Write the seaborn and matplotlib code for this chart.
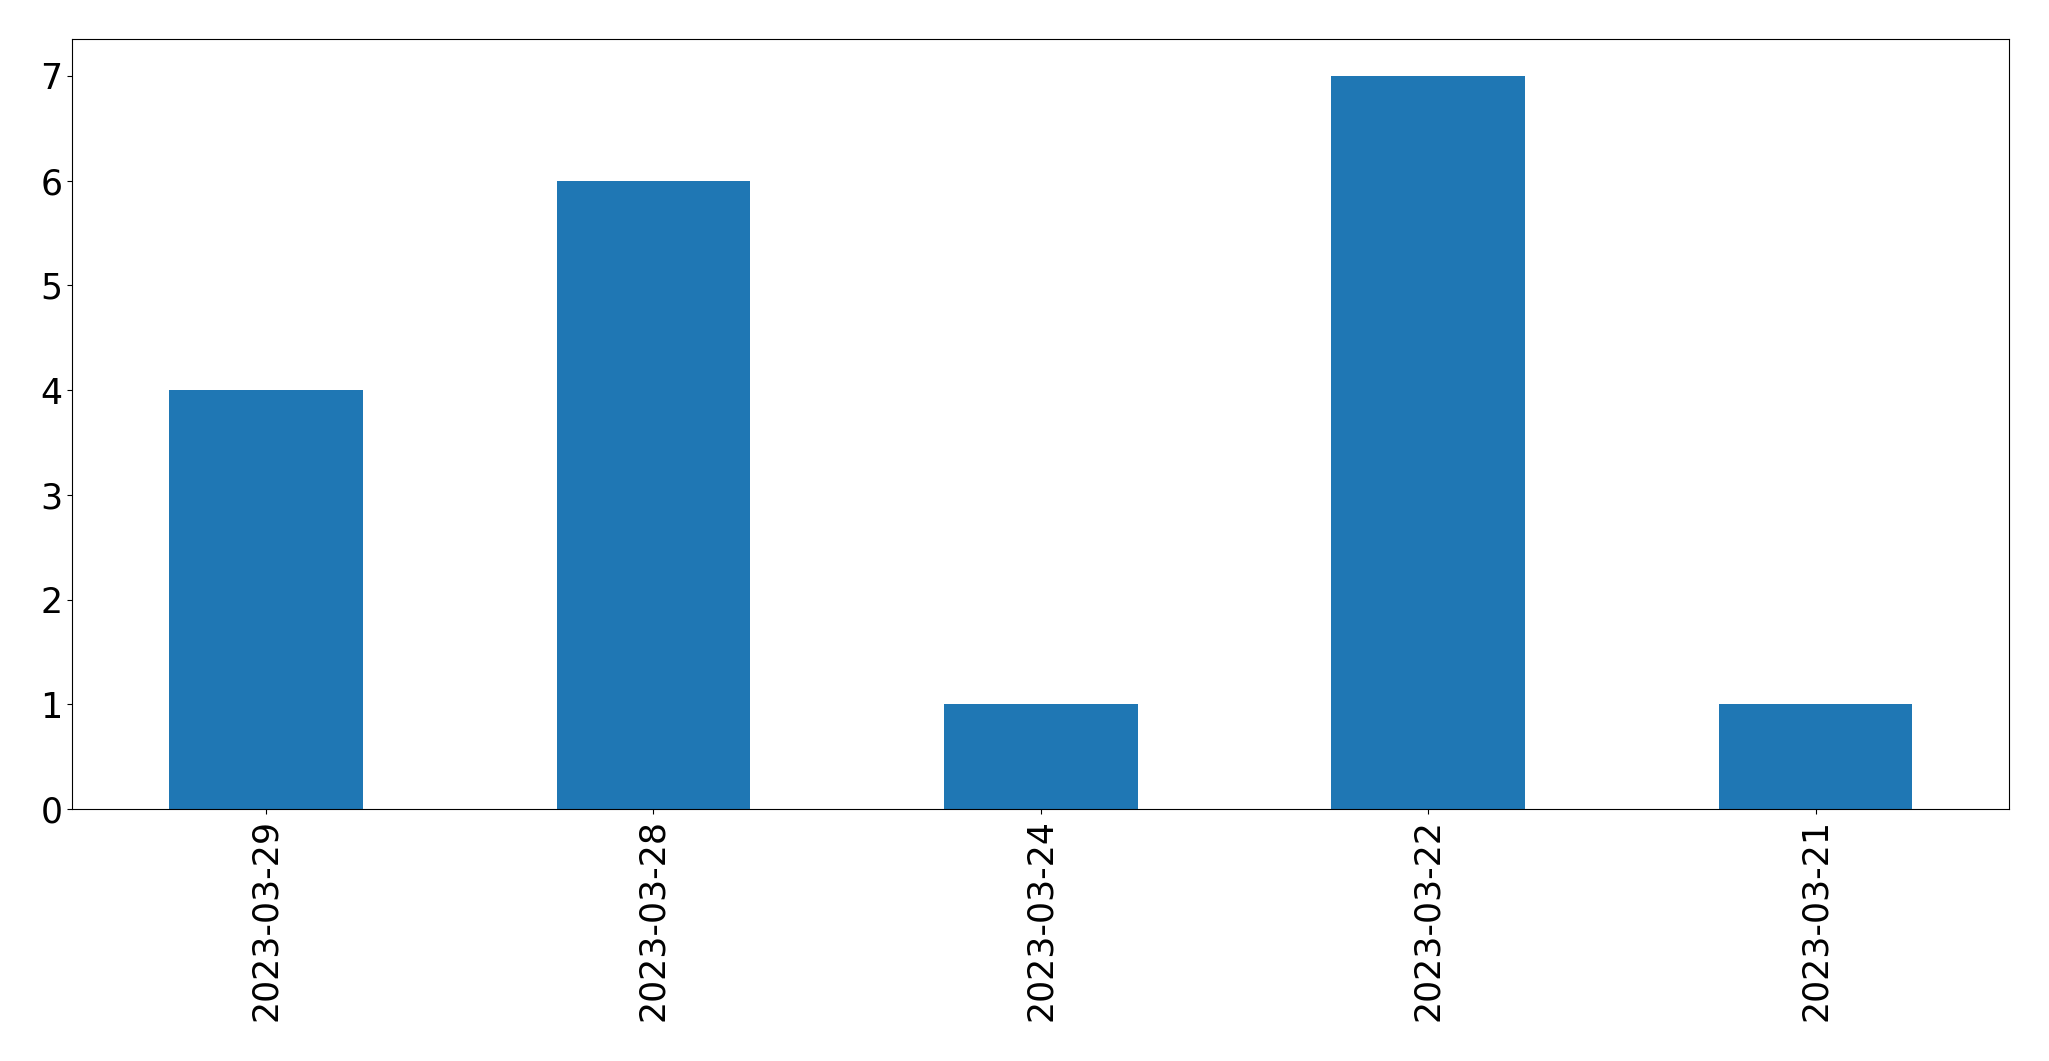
import matplotlib
matplotlib.use("Agg")
import matplotlib.pyplot as plt
import seaborn as sns
import pandas as pd

dates = ["2023-03-29", "2023-03-28", "2023-03-24", "2023-03-22", "2023-03-21"]
counts = [4, 6, 1, 7, 1]

df = pd.DataFrame({"date": dates, "count": counts})

fig = plt.figure(figsize=(20.49, 10.61), dpi=100)
ax = fig.add_axes([0.0353, 0.2375, 0.9453, 0.7255])
sns.barplot(data=df, x="date", y="count", order=dates, color="#1f77b4",
            saturation=1, width=0.5, linewidth=0, ax=ax)
ax.set_xlim(-0.5, len(dates) - 0.5)
ax.set_ylim(0, max(counts) * 1.05)
ax.set_xlabel("")
ax.set_ylabel("")
ax.tick_params(axis="both", labelsize=25)
plt.setp(ax.get_xticklabels(), rotation=90)
fig.savefig("out.png", dpi=100)
